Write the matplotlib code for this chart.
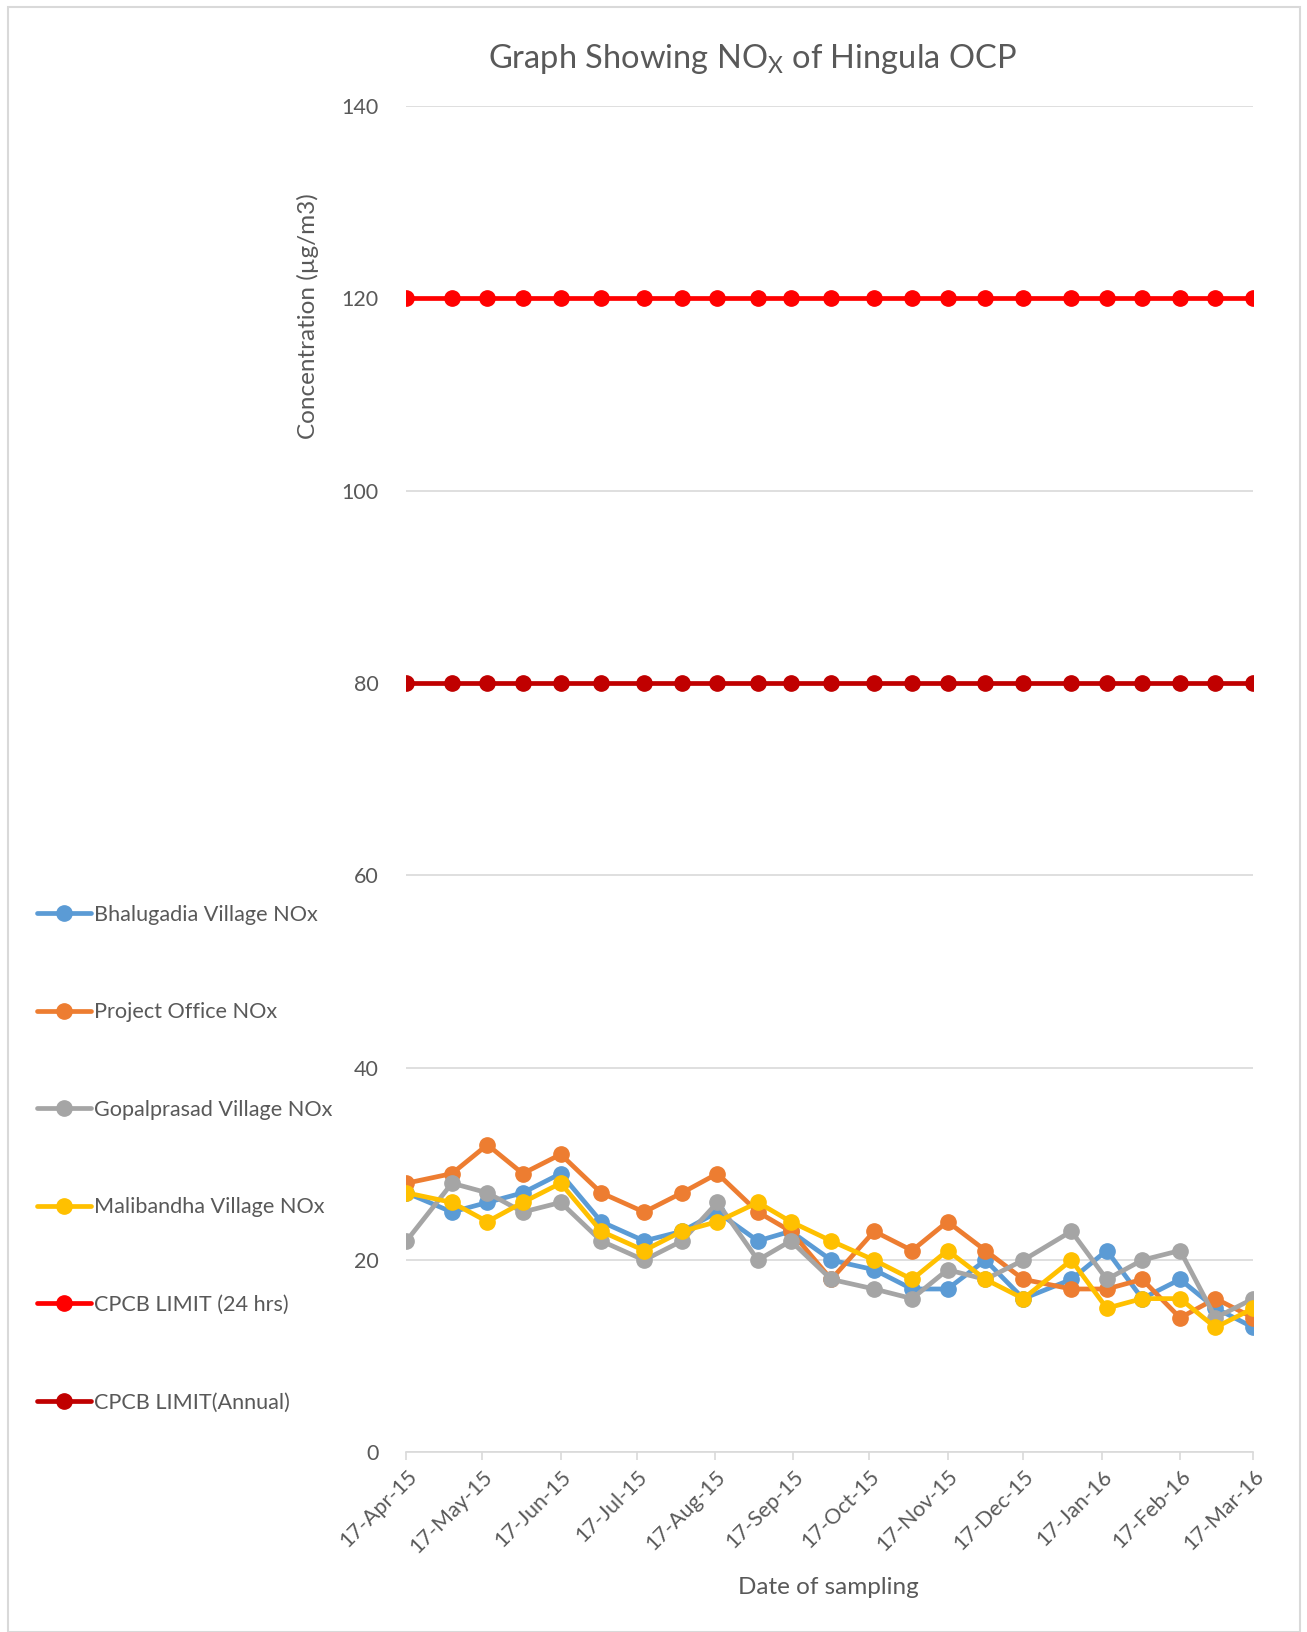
import matplotlib
matplotlib.use('Agg')
import matplotlib.pyplot as plt
import matplotlib.dates as mdates
from matplotlib.patches import Rectangle
import pandas as pd

# sampling dates and NOx readings (ug/m3)
sample_dates = ['2015-04-17', '2015-05-05', '2015-05-19', '2015-06-02', '2015-06-17',
                '2015-07-03', '2015-07-20', '2015-08-04', '2015-08-18', '2015-09-03',
                '2015-09-16', '2015-10-02', '2015-10-19', '2015-11-03', '2015-11-17',
                '2015-12-02', '2015-12-17', '2016-01-05', '2016-01-19', '2016-02-02',
                '2016-02-17', '2016-03-02', '2016-03-17']

bhalugadia = [27, 25, 26, 27, 29, 24, 22, 23, 25, 22, 23, 20, 19, 17, 17, 20, 16, 18, 21, 16, 18, 15, 13]
project_office = [28, 29, 32, 29, 31, 27, 25, 27, 29, 25, 23, 18, 23, 21, 24, 21, 18, 17, 17, 18, 14, 16, 14]
gopalprasad = [22, 28, 27, 25, 26, 22, 20, 22, 26, 20, 22, 18, 17, 16, 19, 18, 20, 23, 18, 20, 21, 14, 16]
malibandha = [27, 26, 24, 26, 28, 23, 21, 23, 24, 26, 24, 22, 20, 18, 21, 18, 16, 20, 15, 16, 16, 13, 15]
limit_24h = [120, 120, 120, 120, 120, 120, 120, 120, 120, 120, 120, 120,
             120, 120, 120, 120, 120, 120, 120, 120, 120, 120, 120]
limit_annual = [80, 80, 80, 80, 80, 80, 80, 80, 80, 80, 80, 80,
                80, 80, 80, 80, 80, 80, 80, 80, 80, 80, 80]

series_names = ['Bhalugadia Village NOx', 'Project Office NOx', 'Gopalprasad Village NOx',
                'Malibandha Village NOx', 'CPCB LIMIT (24 hrs)', 'CPCB LIMIT(Annual)']
series_colors = ['#5B9BD5', '#ED7D31', '#A5A5A5', '#FFC000', '#FF0000', '#C00000']

tick_dates = ['2015-04-17', '2015-05-17', '2015-06-17', '2015-07-17', '2015-08-17',
              '2015-09-17', '2015-10-17', '2015-11-17', '2015-12-17', '2016-01-17',
              '2016-02-17', '2016-03-17']

TEXT = '#595959'
GRID = '#D9D9D9'

plt.rcParams['font.family'] = ['Lato', 'DejaVu Sans']

fig = plt.figure(figsize=(13.07, 16.32), dpi=100)
ax = fig.add_axes([0.311, 0.110, 0.648, 0.825])

x = pd.to_datetime(sample_dates)
all_series = [bhalugadia, project_office, gopalprasad, malibandha, limit_24h, limit_annual]
for vals, name, col in zip(all_series, series_names, series_colors):
    ax.plot(x, vals, color=col, lw=3.4, marker='o', ms=11, label=name,
            solid_capstyle='round')

ax.set_ylim(0, 140)
ax.set_yticks(range(0, 141, 20))
ax.set_xlim(pd.Timestamp('2015-04-17'), pd.Timestamp('2016-03-17'))
ax.set_xticks(pd.to_datetime(tick_dates))
ax.xaxis.set_major_formatter(mdates.DateFormatter('%d-%b-%y'))

ax.grid(axis='y', color=GRID, lw=1.2)
ax.set_axisbelow(True)
for s in ['top', 'right', 'left']:
    ax.spines[s].set_visible(False)
ax.spines['bottom'].set_color(GRID)
ax.spines['bottom'].set_linewidth(1.2)
ax.tick_params(axis='y', length=0, pad=20, labelsize=15.5, labelcolor=TEXT)
ax.tick_params(axis='x', length=6, width=1.2, color=GRID, labelsize=15.5,
               labelcolor=TEXT, pad=4)
plt.setp(ax.get_xticklabels(), rotation=45, ha='right', rotation_mode='anchor')

fig.text(0.576, 0.964, r'Graph Showing NO$_\mathregular{X}$ of Hingula OCP',
         ha='center', va='center', fontsize=23.5, color=TEXT)
fig.text(0.236, 0.806, 'Concentration (µg/m3)', rotation=90,
         ha='center', va='center', fontsize=17.5, color=TEXT)
fig.text(0.634, 0.027, 'Date of sampling', ha='center', va='center',
         fontsize=17.5, color=TEXT)

fig.legend(loc='upper left', bbox_to_anchor=(0.022, 0.451), frameon=False,
           fontsize=15.6, labelcolor=TEXT, labelspacing=3.58, handlelength=2.45,
           handletextpad=0.15, borderaxespad=0)

fig.patches.append(Rectangle((0.006, 0.0), 0.989, 0.996, transform=fig.transFigure,
                             fill=False, edgecolor=GRID, lw=1.5))

fig.savefig('out.png', dpi=100)
